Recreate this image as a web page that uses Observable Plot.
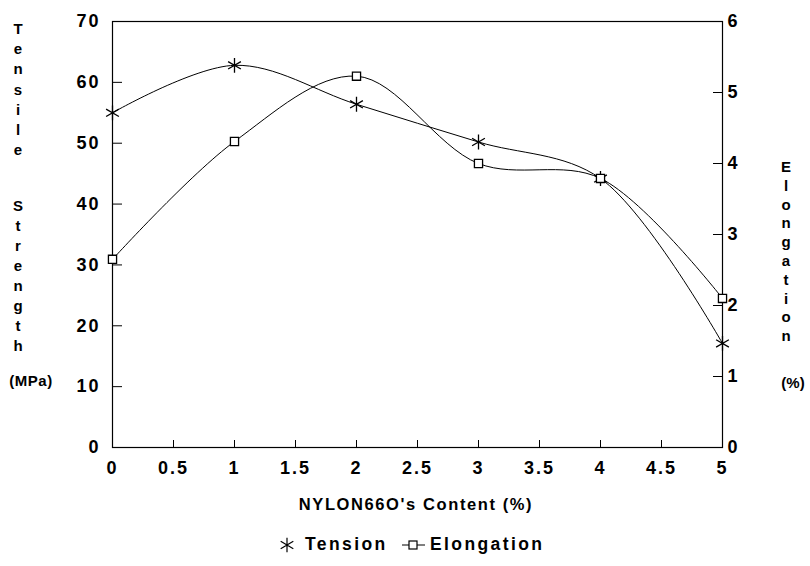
<!DOCTYPE html>
<html>
<head>
<meta charset="utf-8">
<script src="https://cdn.jsdelivr.net/npm/d3@7"></script>
<script src="https://cdn.jsdelivr.net/npm/@observablehq/plot@0.6"></script>
<style>
  html, body { margin: 0; padding: 0; background: white; }
</style>
</head>
<body>
<div id="chart"></div>
<script>
// Data
const content = [0, 1, 2, 3, 4, 5];               // NYLON66O's content (%)
const tension = [55, 62.8, 56.4, 50.2, 44.2, 17.1]; // Tensile strength (MPa)
const elongation = [2.65, 4.31, 5.23, 4.0, 3.79, 2.1]; // Elongation (%)

const xTicks = [0, 0.5, 1, 1.5, 2, 2.5, 3, 3.5, 4, 4.5, 5];
const leftTicks = [0, 10, 20, 30, 40, 50, 60, 70];
const rightTicks = [0, 1, 2, 3, 4, 5, 6];

const leftMax = 70, rightMax = 6;
const k = leftMax / rightMax;

const rows = content.map((x, i) => ({x, t: tension[i], e: elongation[i] * k}));

const font = "'Liberation Sans', Arial, Helvetica, sans-serif";

const chart = Plot.plot({
  width: 810,
  height: 566,
  marginLeft: 112,
  marginRight: 88,
  marginTop: 21,
  marginBottom: 119,
  x: {domain: [0, 5]},
  y: {domain: [0, leftMax]},
  style: {fontFamily: font, fontWeight: "bold", fontSize: "18px", color: "black", background: "white", letterSpacing: "2px"},
  marks: [
    Plot.frame({stroke: "black", strokeWidth: 1.2}),
    Plot.axisY({ticks: leftTicks, anchor: "left", tickSize: -10, tickPadding: 22, label: null, tickFormat: d => d}),
    Plot.axisY({ticks: rightTicks.map(d => d * k), anchor: "right", tickSize: -10, tickPadding: 15, label: null,
      tickFormat: d => Math.round(d / k)}),
    Plot.axisX({ticks: xTicks, anchor: "bottom", tickSize: -7, tickPadding: 21, label: null, tickFormat: d => d}),
    Plot.line(rows, {x: "x", y: "t", curve: "catmull-rom", stroke: "black", strokeWidth: 1}),
    Plot.line(rows, {x: "x", y: "e", curve: "catmull-rom", stroke: "black", strokeWidth: 1}),
    Plot.dot(rows, {x: "x", y: "t", symbol: "asterisk", r: 7, stroke: "black", strokeWidth: 1.3}),
    Plot.dot(rows, {x: "x", y: "e", symbol: "square", r: 4.6, fill: "white", stroke: "black", strokeWidth: 1.3})
  ]
});

const svg = d3.select(chart);
const g = svg.append("g")
  .attr("font-family", font)
  .attr("font-weight", "bold")
  .attr("fill", "black")
  .attr("letter-spacing", "0px");

function label(x, y, s, size, anchor, spacing) {
  return g.append("text").attr("x", x).attr("y", y)
    .attr("text-anchor", anchor).attr("dominant-baseline", "middle")
    .style("text-anchor", anchor)
    .attr("font-size", size).attr("letter-spacing", spacing || "0px").text(s);
}

// Left stacked title
"Tensile".split("").forEach((c, i) => label(18, 30 + i * 20.2, c, 15, "middle"));
"Strength".split("").forEach((c, i) => label(18, 207 + i * 20, c, 15, "middle"));
label(31, 382, "(MPa)", 15, "middle", "0.5px");

// Right stacked title
"Elongation".split("").forEach((c, i) => label(786, 168 + i * 18.8, c, 15, "middle"));
label(793, 384, "(%)", 15, "middle");

// X title
label(416, 506, "NYLON66O's Content (%)", 16.5, "middle", "1.6px");

// Legend
const ly = 545;
g.append("path").attr("transform", `translate(287,${ly})`)
  .attr("d", d3.symbol(d3.symbolAsterisk, 150)()).attr("stroke", "black").attr("stroke-width", 1.2).attr("fill", "none");
label(305, ly, "Tension", 17.5, "start", "2.4px");
g.append("line").attr("x1", 402).attr("x2", 425).attr("y1", ly).attr("y2", ly).attr("stroke", "black").attr("stroke-width", 1);
g.append("rect").attr("x", 409).attr("y", ly - 4).attr("width", 8).attr("height", 8)
  .attr("fill", "white").attr("stroke", "black").attr("stroke-width", 1.2);
label(430, ly, "Elongation", 17.5, "start", "2.4px");

document.getElementById("chart").appendChild(chart);
</script>
</body>
</html>
